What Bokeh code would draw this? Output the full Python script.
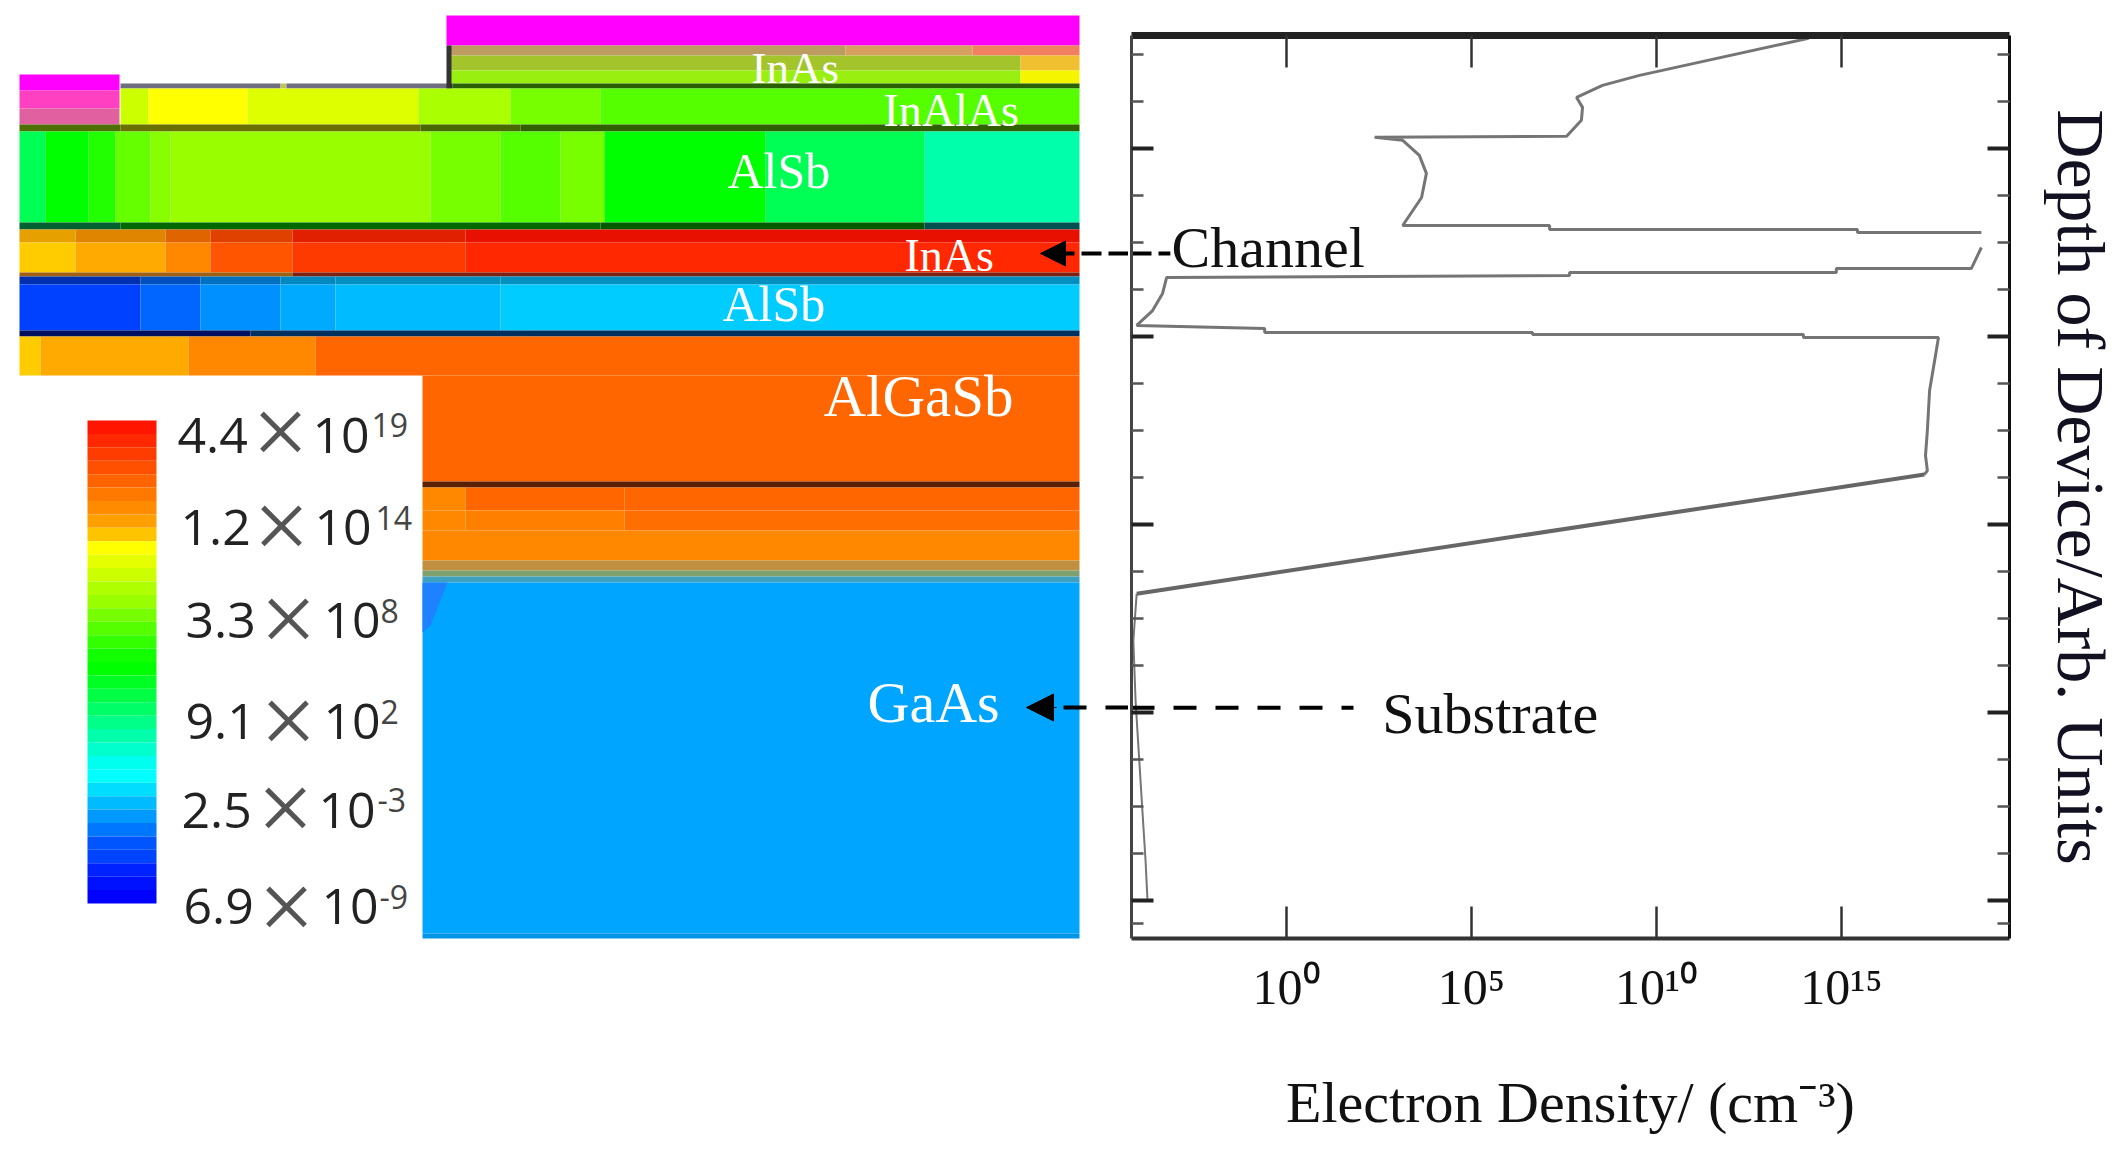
from bokeh.plotting import figure
from bokeh.layouts import row
from bokeh.models import (Range1d, LogAxis, LinearAxis, FixedTicker, Arrow, NormalHead)
from bokeh.core.properties import value
from bokeh.embed import file_html
from bokeh.resources import INLINE

# ---------- electron density profile (log10 density, depth in arbitrary units) ----------
upper_exp = [14.11, 9.54, 8.54, 7.84, 8.00, 7.97, 7.57, 2.38, 3.14, 3.59, 3.78, 3.65, 3.14, 7.11, 7.11, 15.43, 15.43, 18.78]
upper_depth = [-0.585, -0.388, -0.335, -0.271, -0.218, -0.149, -0.064, -0.059, -0.043, 0.037, 0.133, 0.261, 0.410, 0.410, 0.431, 0.431, 0.447, 0.447]
lower_exp = [18.78, 18.51, 14.86, 14.86, 7.65, 7.65, -3.24, -3.35, -3.62, -4.05, -0.59, -0.59, 6.65, 6.65, 13.97, 13.97,
             17.62, 17.54, 17.38, 17.32, 17.27, 17.32, 17.24]
lower_depth = [0.527, 0.638, 0.638, 0.660, 0.660, 0.676, 0.686, 0.771, 0.862, 0.941, 0.957, 0.979, 0.979, 0.989, 0.989, 1.005,
               1.005, 1.101, 1.287, 1.500, 1.633, 1.713, 1.734]
slope_exp = [17.24, -4.05]
slope_depth = [1.734, 2.367]
tail_exp = [-4.05, -4.14, -4.08, -4.03, -3.89, -3.81, -3.76]
tail_depth = [2.367, 2.617, 2.936, 3.096, 3.537, 3.787, 3.989]
x_tick_exp = [0, 5, 10, 15]
x_tick_labels = ["10⁰", "10⁵", "10¹⁰", "10¹⁵"]
y_major = [0, 1, 2, 3, 4]
y_minor = [-0.5, -0.25, 0.25, 0.5, 0.75, 1.25, 1.5, 1.75, 2.25, 2.5, 2.75, 3.25, 3.5, 3.75, 4.12]
x_label = "Electron Density/ (cm⁻³)"
y_label = "Depth of Device/Arb. Units"

# ---------- device cross-section: (top, bottom, x edges, colours) ----------
device_bands = [
    (15, 45, [446, 1079], ["#FF00FF"]),
    (74, 90, [19, 119], ["#FF00FF"]),
    (90, 108, [19, 119], ["#FF40C0"]),
    (108, 124, [19, 119], ["#E060A0"]),
    (45, 55, [450, 845, 972, 1079], ["#BC9C60", "#D8A060", "#F08060"]),
    (55, 70, [450, 1020, 1079], ["#A4C42C", "#F0C030"]),
    (70, 83, [450, 1020, 1079], ["#99F010", "#F5F500"]),
    (83, 88, [120, 280, 286, 446, 452, 1079], ["#6E6E80", "#C0C060", "#6E6E80", "#222222", "#2A6000"]),
    (45, 88, [446, 451], ["#333333"]),
    (88, 124, [120, 148, 247, 418, 510, 600, 1079], ["#CCFF00", "#FFFF00", "#DDFF00", "#AAFF00", "#77FF00", "#55FF00"]),
    (124, 131, [19, 120, 420, 520, 1079], ["#4E7000", "#6A7000", "#486800", "#2F6000"]),
    (131, 222, [19, 45, 88, 115, 150, 170, 430, 500, 560, 604, 765, 924, 1079],
     ["#00FF55", "#00FF00", "#22FF00", "#66FF00", "#88FF00", "#99FF00", "#77FF00", "#55FF00", "#77FF00",
      "#00FF00", "#00FF55", "#00FFAA"]),
    (222, 229, [19, 120, 600, 924, 1079], ["#006030", "#006800", "#005A00", "#005050"]),
    (229, 242, [19, 75, 165, 210, 292, 465, 1079], ["#E6A000", "#E08500", "#E06500", "#E04000", "#E02000", "#E81000"]),
    (242, 272, [19, 75, 165, 210, 292, 465, 1079], ["#FFCC00", "#FFAA00", "#FF8800", "#FF5500", "#FF3A00", "#FF2800"]),
    (272, 276, [19, 292, 1079], ["#A06010", "#802010"]),
    (276, 284, [19, 140, 200, 280, 335, 500, 1079], ["#0030B0", "#0050C0", "#0070C0", "#0088C0", "#0090C0", "#0090C0"]),
    (284, 330, [19, 140, 200, 280, 335, 500, 1079], ["#0040FF", "#0066FF", "#0090FF", "#00AAFF", "#00BBFF", "#00CCFF"]),
    (330, 336, [19, 250, 1079], ["#001060", "#003060"]),
    (336, 375, [19, 40, 188, 315, 1079], ["#FFCC00", "#FFAA00", "#FF8800", "#FF6600"]),
    (375, 481, [422, 1079], ["#FF6600"]),
    (481, 487, [422, 1079], ["#5A2000"]),
    (487, 510, [422, 465, 624, 1079], ["#FF8800", "#FF6600", "#FF6600"]),
    (510, 530, [422, 465, 624, 1079], ["#FF8800", "#FF8000", "#FF6E00"]),
    (530, 560, [422, 1079], ["#FF8800"]),
    (560, 570, [422, 1079], ["#C09040"]),
    (570, 576, [422, 1079], ["#80A070"]),
    (576, 582, [422, 1079], ["#40A0C0"]),
    (582, 933, [422, 1079], ["#00A5FF"]),
    (933, 938, [422, 1079], ["#0096E8"]),
]
layer_names = ["InAs", "InAlAs", "AlSb", "InAs", "AlSb", "AlGaSb", "GaAs"]
layer_x = [751, 883, 727, 904, 722, 823, 867]
layer_y = [67, 110, 170, 255, 303, 395, 702]
layer_sizes = ["45px", "46px", "50px", "46px", "50px", "59px", "58px"]

# ---------- colour scale ----------
scale_colors = ["#FF1500", "#FF2800", "#FF3C00", "#FF5000", "#FF6400", "#FF7800", "#FF8C00", "#FFA000", "#FFC400",
                "#FFFF00", "#E6FF00", "#CCFF00", "#B0FF00", "#99FF00", "#77FF00", "#55FF00", "#33FF00", "#11FF00",
                "#00FF00", "#00FF22", "#00FF44", "#00FF66", "#00FF88", "#00FFAA", "#00FFCC", "#00FFEE", "#00FFFF",
                "#00DDFF", "#00BBFF", "#0099FF", "#0077FF", "#0055FF", "#0044FF", "#0022FF", "#0011FF", "#0000FF"]
scale_top, scale_bottom, scale_left, scale_right = 420, 903, 87, 156
mantissas = ["4.4", "1.2", "3.3", "9.1", "2.5", "6.9"]
exponents = ["19", "14", "8", "2", "-3", "-9"]
mant_x = [177, 180, 185, 185, 181, 183]
times_x = [280, 281, 288, 288, 285, 286]
times_y = [431, 525, 618, 720, 807, 906]
ten_x = [312, 314, 323, 323, 318, 321]
exp_x = [371, 375, 380, 380, 377, 379]
base_y = [435, 527, 620, 721, 810, 906]
exp_y = [424, 517, 610, 711, 799, 896]

# page-pixel-like coordinates of the schematic half
left = figure(width=1128, height=1140, x_range=Range1d(0, 1128), y_range=Range1d(1140, 0),
              x_axis_type=None, y_axis_type=None, toolbar_location=None, output_backend="svg",
              min_border=0, outline_line_color=None, background_fill_color="white", border_fill_color="white",
              frame_align=False)
left.grid.visible = False

ql, qr, qt, qb, qc = [], [], [], [], []
for top, bottom, edges, colors in device_bands:
    for i, c in enumerate(colors):
        ql.append(edges[i]); qr.append(edges[i + 1]); qt.append(top); qb.append(bottom); qc.append(c)
left.quad(left=ql, right=qr, top=qt, bottom=qb, fill_color=qc, line_color=None)
left.patch([422, 447, 430, 422], [582, 582, 625, 632], fill_color="#1E82FF", line_color=None)

n = len(scale_colors)
step = (scale_bottom - scale_top) / n
left.quad(left=[scale_left] * n, right=[scale_right] * n,
          top=[scale_top + i * step for i in range(n)], bottom=[scale_top + (i + 1) * step for i in range(n)],
          fill_color=scale_colors, line_color=None)

serif = value("Liberation Serif")
left.text(x=layer_x, y=layer_y, text=layer_names, text_color="white", text_font=serif,
          text_font_size=layer_sizes, text_baseline="alphabetic", text_align="left")

sans = value("Open Sans")
left.text(x=mant_x, y=base_y, text=mantissas, text_font=sans, text_font_size=value("50px"), text_color="#222222",
          text_baseline="alphabetic")
left.text(x=ten_x, y=base_y, text=["10"] * 6, text_font=sans, text_font_size=value("50px"), text_color="#222222",
          text_baseline="alphabetic")
left.text(x=exp_x, y=exp_y, text=exponents, text_font=sans, text_font_size=value("32px"), text_color="#444444",
          text_baseline="alphabetic")
left.text(x=times_x, y=times_y, text=["×"] * 6, text_font=serif,
          text_font_size=value("100px"), text_color="#555555", text_align="center", text_baseline="middle")

left.line([1128, 1063], [253, 253], line_color="black", line_width=4, line_dash="20 7")
left.line([1128, 1054], [707, 707], line_color="black", line_width=4, line_dash="23 19")
left.add_layout(Arrow(end=NormalHead(size=25, fill_color="black", line_color="black"),
                      x_start=1066, y_start=253, x_end=1040, y_end=253, line_color="black", line_width=1))
left.add_layout(Arrow(end=NormalHead(size=27, fill_color="black", line_color="black"),
                      x_start=1056, y_start=707, x_end=1026, y_end=707, line_color="black", line_width=1))

# ---------- density plot ----------
right = figure(frame_width=878, frame_height=903, x_axis_type="log",
               x_range=Range1d(10 ** -4.19, 10 ** 19.54), y_range=Range1d(4.2, -0.6),
               toolbar_location=None, output_backend="svg", min_border_left=3, min_border_top=35,
               min_border_right=0, min_border_bottom=0, outline_line_color=None,
               background_fill_color="white", border_fill_color="white", frame_align=False)
right.grid.visible = False

line_color = "#757575"
right.line([10 ** e for e in upper_exp], upper_depth, line_color=line_color, line_width=3)
right.line([10 ** e for e in lower_exp], lower_depth, line_color=line_color, line_width=3)
right.line([10 ** e for e in slope_exp], slope_depth, line_color="#666666", line_width=4)
right.line([10 ** e for e in tail_exp], tail_depth, line_color=line_color, line_width=2)

x_ticks = [10 ** e for e in x_tick_exp]
overrides = dict(zip(x_ticks, x_tick_labels))
blank_x = dict(zip(x_ticks, [""] * len(x_ticks)))
blank_y = dict(zip(y_major, [""] * len(y_major)))

xa = right.xaxis[0]
xa.ticker = FixedTicker(ticks=x_ticks, minor_ticks=[])
xa.major_label_overrides = overrides
xa.major_tick_in = 32
xa.major_tick_out = 0
xa.major_tick_line_width = 2.5
xa.major_tick_line_color = "#333333"
xa.axis_line_width = 4
xa.axis_line_color = "#333333"
xa.major_label_standoff = 20
xa.major_label_text_font = "Liberation Serif"
xa.major_label_text_font_size = "50px"
xa.major_label_text_color = "#111111"
xa.axis_label = x_label
xa.axis_label_text_font = "Liberation Serif"
xa.axis_label_text_font_size = "58px"
xa.axis_label_text_font_style = "normal"
xa.axis_label_text_color = "#111111"
xa.axis_label_standoff = 52

top_axis = LogAxis(ticker=FixedTicker(ticks=x_ticks, minor_ticks=[]), major_tick_in=32, major_tick_out=0,
                   major_tick_line_width=2.5, major_tick_line_color="#333333", axis_line_width=7,
                   axis_line_color="#222222", major_label_overrides=blank_x, major_label_text_font_size="1px",
                   major_label_standoff=0)
right.add_layout(top_axis, "above")

ya = right.yaxis[0]
ya.ticker = FixedTicker(ticks=y_major, minor_ticks=y_minor)
ya.major_tick_in = 22
ya.major_tick_out = 0
ya.minor_tick_in = 12
ya.minor_tick_out = 0
ya.major_tick_line_width = 4
ya.minor_tick_line_width = 2.5
ya.major_tick_line_color = "#222222"
ya.minor_tick_line_color = "#555555"
ya.axis_line_width = 3
ya.axis_line_color = "#444444"
ya.major_label_overrides = blank_y
ya.major_label_text_font_size = "1px"
ya.major_label_standoff = 0

ra = LinearAxis(ticker=FixedTicker(ticks=y_major, minor_ticks=y_minor), major_tick_in=22, major_tick_out=0,
                minor_tick_in=12, minor_tick_out=0, major_tick_line_width=4, minor_tick_line_width=2.5,
                major_tick_line_color="#222222", minor_tick_line_color="#555555", axis_line_width=3,
                axis_line_color="#111111", major_label_overrides=blank_y, major_label_text_font_size="1px",
                major_label_standoff=0,
                axis_label=y_label, axis_label_text_font="Liberation Serif", axis_label_text_font_size="68px",
                axis_label_text_font_style="normal", axis_label_text_color="#111122", axis_label_standoff=33)
right.add_layout(ra, "right")

right.text(x=[10 ** -3.11, 10 ** 2.59], y=[0.527, 3.006], text=["Channel", "Substrate"], text_font=serif,
           text_font_size=value("58px"), text_color="#111111", text_baseline="alphabetic")
right.line([10 ** -4.19, 10 ** -3.14], [0.559, 0.559], line_color="black", line_width=4, line_dash="20 7")
right.line([10 ** -4.19, 10 ** 1.81], [2.973, 2.973], line_color="black", line_width=4, line_dash="23 19")

page = row(left, right, spacing=0)
open("out.html", "w").write(file_html(page, INLINE))
